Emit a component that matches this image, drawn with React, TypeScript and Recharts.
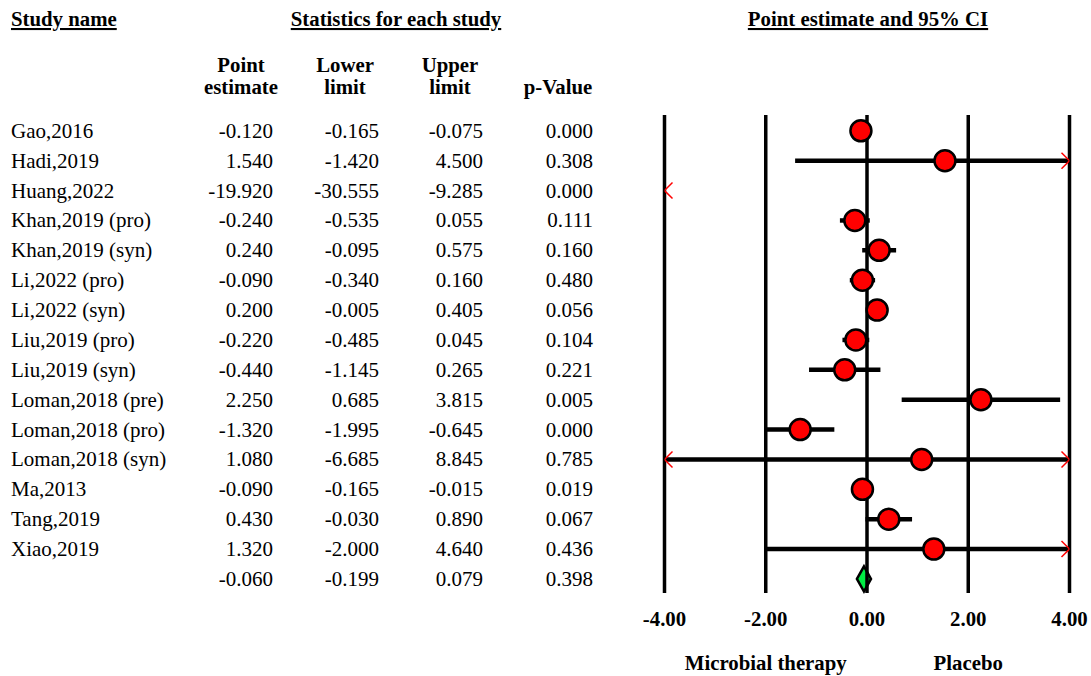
import React from 'react';
import {
  ScatterChart,
  XAxis,
  YAxis,
  Scatter,
  ReferenceLine,
  ReferenceArea,
  Customized,
} from 'recharts';

// ---------- data ----------
const studyNames = [
  'Gao,2016',
  'Hadi,2019',
  'Huang,2022',
  'Khan,2019 (pro)',
  'Khan,2019 (syn)',
  'Li,2022 (pro)',
  'Li,2022 (syn)',
  'Liu,2019 (pro)',
  'Liu,2019 (syn)',
  'Loman,2018 (pre)',
  'Loman,2018 (pro)',
  'Loman,2018 (syn)',
  'Ma,2013',
  'Tang,2019',
  'Xiao,2019',
];
const pointEstimates = [-0.12, 1.54, -19.92, -0.24, 0.24, -0.09, 0.2, -0.22, -0.44, 2.25, -1.32, 1.08, -0.09, 0.43, 1.32];
const lowerLimits = [-0.165, -1.42, -30.555, -0.535, -0.095, -0.34, -0.005, -0.485, -1.145, 0.685, -1.995, -6.685, -0.165, -0.03, -2.0];
const upperLimits = [-0.075, 4.5, -9.285, 0.055, 0.575, 0.16, 0.405, 0.045, 0.265, 3.815, -0.645, 8.845, -0.015, 0.89, 4.64];
const pValues = [0.0, 0.308, 0.0, 0.111, 0.16, 0.48, 0.056, 0.104, 0.221, 0.005, 0.0, 0.785, 0.019, 0.067, 0.436];
const summaryEstimate = -0.06;
const summaryLower = -0.199;
const summaryUpper = 0.079;
const summaryP = 0.398;
const axisTicks = [-4, -2, 0, 2, 4];
const xMin = -4;
const xMax = 4;
const leftSideLabel = 'Microbial therapy';
const rightSideLabel = 'Placebo';
const leftSideAt = -2;
const rightSideAt = 2;

// ---------- derived ----------
const nRows = studyNames.length + 1;
const rowTicks = Array.from({ length: nRows }, (_, i) => i);
const summaryRow = studyNames.length;

const pointData = pointEstimates
  .map((v, i) => ({ x: v, y: i }))
  .filter((d) => d.x >= xMin && d.x <= xMax);

const ciSegments = studyNames
  .map((_, i) => ({ lo: lowerLimits[i], hi: upperLimits[i], y: i }))
  .filter((d) => d.hi >= xMin && d.lo <= xMax)
  .map((d) => ({ x1: Math.max(d.lo, xMin), x2: Math.min(d.hi, xMax), y: d.y }));

const arrowData: { x: number; y: number; dir: string }[] = [];
studyNames.forEach((_, i) => {
  if (lowerLimits[i] < xMin) arrowData.push({ x: xMin, y: i, dir: 'left' });
  if (upperLimits[i] > xMax) arrowData.push({ x: xMax, y: i, dir: 'right' });
});

// ---------- styles ----------
const FONT = '"Liberation Serif", "Times New Roman", Times, serif';
const FS = 21;
const FSB = 20.8;

const fmt = (v: number) => v.toFixed(3);

const TableTick = (props: any) => {
  const { y, payload } = props;
  const i = payload.value as number;
  const isSummary = i === summaryRow;
  const name = isSummary ? '' : studyNames[i];
  const est = isSummary ? summaryEstimate : pointEstimates[i];
  const lo = isSummary ? summaryLower : lowerLimits[i];
  const hi = isSummary ? summaryUpper : upperLimits[i];
  const p = isSummary ? summaryP : pValues[i];
  const common = { y, dominantBaseline: 'central' as const, fontFamily: FONT, fontSize: FS, fill: '#000' };
  return (
    <g>
      <text x={11} textAnchor="start" {...common}>{name}</text>
      <text x={273} textAnchor="end" {...common}>{fmt(est)}</text>
      <text x={379} textAnchor="end" {...common}>{fmt(lo)}</text>
      <text x={483} textAnchor="end" {...common}>{fmt(hi)}</text>
      <text x={593} textAnchor="end" {...common}>{fmt(p)}</text>
    </g>
  );
};

const AxisTick = (props: any) => {
  const { x, y, payload } = props;
  const v = payload.value as number;
  const side = v === leftSideAt ? leftSideLabel : v === rightSideAt ? rightSideLabel : '';
  return (
    <g fontFamily={FONT} fontSize={FSB} fontWeight="bold" fill="#000">
      <text x={x} y={y + 25} textAnchor="middle" dominantBaseline="central">{v.toFixed(2)}</text>
      {side ? (
        <text x={x} y={y + 69} textAnchor="middle" dominantBaseline="central">{side}</text>
      ) : null}
    </g>
  );
};

const Headers = () => (
  <g fontFamily={FONT} fontSize={FSB} fontWeight="bold" fill="#000">
    <text x={11} y={26} style={{ textDecoration: 'underline' }}>Study name</text>
    <text x={396} y={26} textAnchor="middle" style={{ textDecoration: 'underline' }}>Statistics for each study</text>
    <text x={868} y={26} textAnchor="middle" style={{ textDecoration: 'underline' }}>Point estimate and 95% CI</text>
    <text x={241} y={72} textAnchor="middle">Point</text>
    <text x={241} y={94} textAnchor="middle">estimate</text>
    <text x={345} y={72} textAnchor="middle">Lower</text>
    <text x={345} y={94} textAnchor="middle">limit</text>
    <text x={450} y={72} textAnchor="middle">Upper</text>
    <text x={450} y={94} textAnchor="middle">limit</text>
    <text x={558} y={94} textAnchor="middle">p-Value</text>
  </g>
);

const CircleShape = (props: any) => {
  const { cx, cy } = props;
  return <circle cx={cx} cy={cy} r={10.5} fill="#ff0000" stroke="#000" strokeWidth={2.5} />;
};

const ArrowShape = (props: any) => {
  const { cx, cy, payload } = props;
  const d = payload.dir === 'left' ? 8 : -8;
  return (
    <polyline
      points={`${cx + d},${cy - 8} ${cx},${cy} ${cx + d},${cy + 8}`}
      fill="none"
      stroke="#ff0000"
      strokeWidth={1.5}
    />
  );
};

const DiamondShape = (props: any) => {
  const { x, y, width, height } = props;
  const frac = (summaryEstimate - summaryLower) / (summaryUpper - summaryLower);
  const px = x + width * frac;
  const cy = y + height / 2;
  return (
    <polygon
      points={`${x},${cy} ${px},${y} ${x + width},${cy} ${px},${y + height}`}
      fill="#00ee44"
      stroke="#000"
      strokeWidth={2.5}
      strokeLinejoin="miter"
    />
  );
};

export default function App() {
  return (
    <div style={{ position: 'absolute', left: 0, top: 0, width: 1091, height: 676, background: '#fff' }}>
      <ScatterChart
        width={1091}
        height={676}
        margin={{ top: 115, right: 21.5, bottom: 0, left: 0 }}
      >
        <XAxis
          type="number"
          dataKey="x"
          domain={[xMin, xMax]}
          ticks={axisTicks}
          allowDataOverflow
          axisLine={false}
          tickLine={false}
          tickSize={0}
          tickMargin={0}
          height={83}
          interval={0}
          tick={<AxisTick />}
        />
        <YAxis
          type="number"
          dataKey="y"
          domain={[-0.53, nRows - 0.53]}
          reversed
          allowDataOverflow
          ticks={rowTicks}
          interval={0}
          axisLine={false}
          tickLine={false}
          tickSize={0}
          tickMargin={0}
          width={664.5}
          tick={<TableTick />}
        />
        {axisTicks.map((t) => (
          <ReferenceLine key={'v' + t} x={t} stroke="#000" strokeWidth={3.5} />
        ))}
        {ciSegments.map((s) => (
          <ReferenceLine
            key={'ci' + s.y}
            segment={[
              { x: s.x1, y: s.y },
              { x: s.x2, y: s.y },
            ]}
            stroke="#000"
            strokeWidth={4.5}
          />
        ))}
        <ReferenceArea
          x1={summaryLower}
          x2={summaryUpper}
          y1={summaryRow - 0.42}
          y2={summaryRow + 0.42}
          shape={(p: any) => <DiamondShape {...p} />}
        />
        <Scatter data={pointData} shape={<CircleShape />} isAnimationActive={false} />
        <Scatter data={arrowData} shape={<ArrowShape />} isAnimationActive={false} />
        <Customized component={<Headers />} />
      </ScatterChart>
    </div>
  );
}
